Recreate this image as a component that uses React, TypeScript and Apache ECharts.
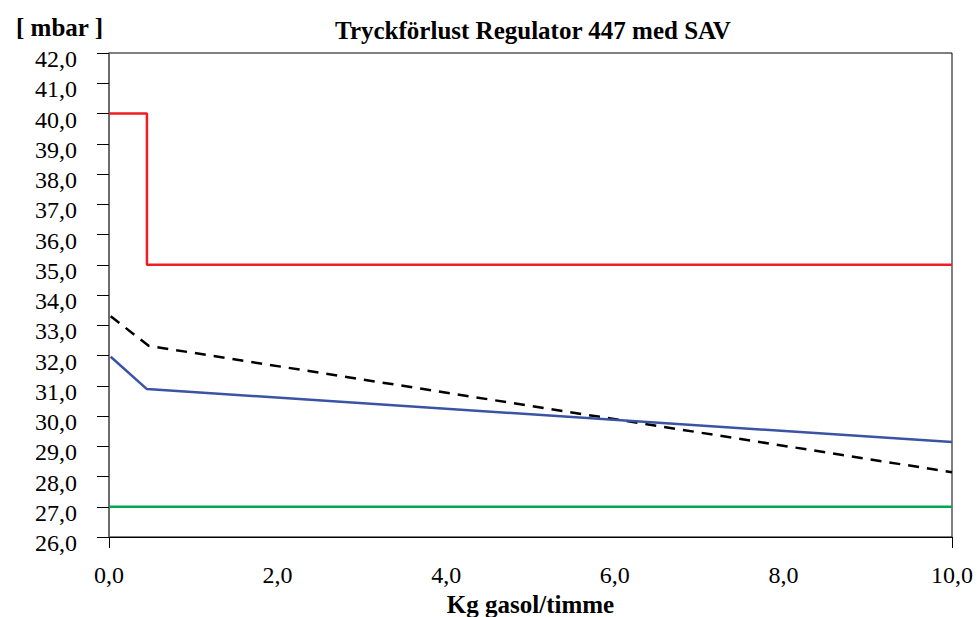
import React, { useEffect, useRef } from "react";
import * as echarts from "echarts";

const titleText = "Tryckförlust Regulator 447 med SAV";
const yUnit = "[ mbar ]";
const xName = "Kg gasol/timme";

const xLabelValues = [0, 2, 4, 6, 8, 10];
const xTickValues = [0, 10];

const redX = [0, 0.45, 0.45, 10];
const redY = [40.0, 40.0, 35.0, 35.0];
const dashX = [0.02, 0.47, 10];
const dashY = [33.3, 32.32, 28.14];
const blueX = [0.02, 0.45, 10];
const blueY = [31.96, 30.89, 29.14];
const greenX = [0, 10];
const greenY = [27.0, 27.0];

const zip = (xs: number[], ys: number[]) => xs.map((x, i) => [x, ys[i]]);
const fmt = (v: number) => v.toFixed(1).replace(".", ",");
const FONT = "'Liberation Serif', 'DejaVu Serif', serif";

export default function App() {
  const ref = useRef<HTMLDivElement>(null);
  useEffect(() => {
    if (!ref.current) return;
    const chart = echarts.init(ref.current, null, { renderer: "svg" });
    chart.setOption({
      animation: false,
      backgroundColor: "#ffffff",
      textStyle: { fontFamily: FONT },
      title: [
        {
          text: titleText,
          left: 528,
          top: 13,
          textAlign: "center",
          textStyle: { fontFamily: FONT, fontWeight: "bold", fontSize: 25, color: "#000" },
        },
        {
          text: yUnit,
          left: 11,
          top: 10,
          textStyle: { fontFamily: FONT, fontWeight: "bold", fontSize: 25, color: "#000" },
        },
      ],
      grid: {
        left: 109,
        right: 27,
        top: 53,
        bottom: 80,
        show: true,
        borderColor: "#000",
        borderWidth: 1,
        outerBoundsMode: "none",
        containLabel: false,
      },
      xAxis: {
        type: "value",
        min: 0,
        max: 10,
        interval: 2,
        name: xName,
        nameLocation: "middle",
        nameGap: 52,
        nameTextStyle: { fontFamily: FONT, fontWeight: "bold", fontSize: 25, color: "#000" },
        axisLine: { show: true, lineStyle: { color: "#000", width: 1 } },
        axisTick: {
          show: true,
          length: 11,
          customValues: xTickValues,
          lineStyle: { color: "#000" },
        },
        splitLine: { show: false },
        axisLabel: {
          customValues: xLabelValues,
          formatter: fmt,
          margin: 26,
          fontFamily: FONT,
          fontSize: 24,
          color: "#000",
        },
      },
      yAxis: {
        type: "value",
        min: 26,
        max: 42,
        interval: 1,
        axisLine: { show: true, lineStyle: { color: "#666", width: 1.5 } },
        axisTick: { show: true, length: 12, lineStyle: { color: "#000" } },
        splitLine: { show: false },
        axisLabel: {
          formatter: fmt,
          margin: 32,
          fontFamily: FONT,
          fontSize: 24,
          color: "#000",
          verticalAlign: "top",
          lineHeight: 12,
        },
      },
      series: [
        {
          type: "line",
          data: zip(redX, redY),
          showSymbol: false,
          symbol: "none",
          lineStyle: { color: "#ee1c25", width: 2.5 },
        },
        {
          type: "line",
          data: zip(dashX, dashY),
          showSymbol: false,
          symbol: "none",
          lineStyle: { color: "#000", width: 2.5, type: [11, 8] },
        },
        {
          type: "line",
          data: zip(blueX, blueY),
          showSymbol: false,
          symbol: "none",
          lineStyle: { color: "#3a53a4", width: 2.5 },
        },
        {
          type: "line",
          data: zip(greenX, greenY),
          showSymbol: false,
          symbol: "none",
          lineStyle: { color: "#00a650", width: 2.5 },
        },
      ],
    });
    return () => chart.dispose();
  }, []);
  return (
    <div
      ref={ref}
      style={{ position: "fixed", left: 0, top: 0, width: 979, height: 617 }}
    />
  );
}
